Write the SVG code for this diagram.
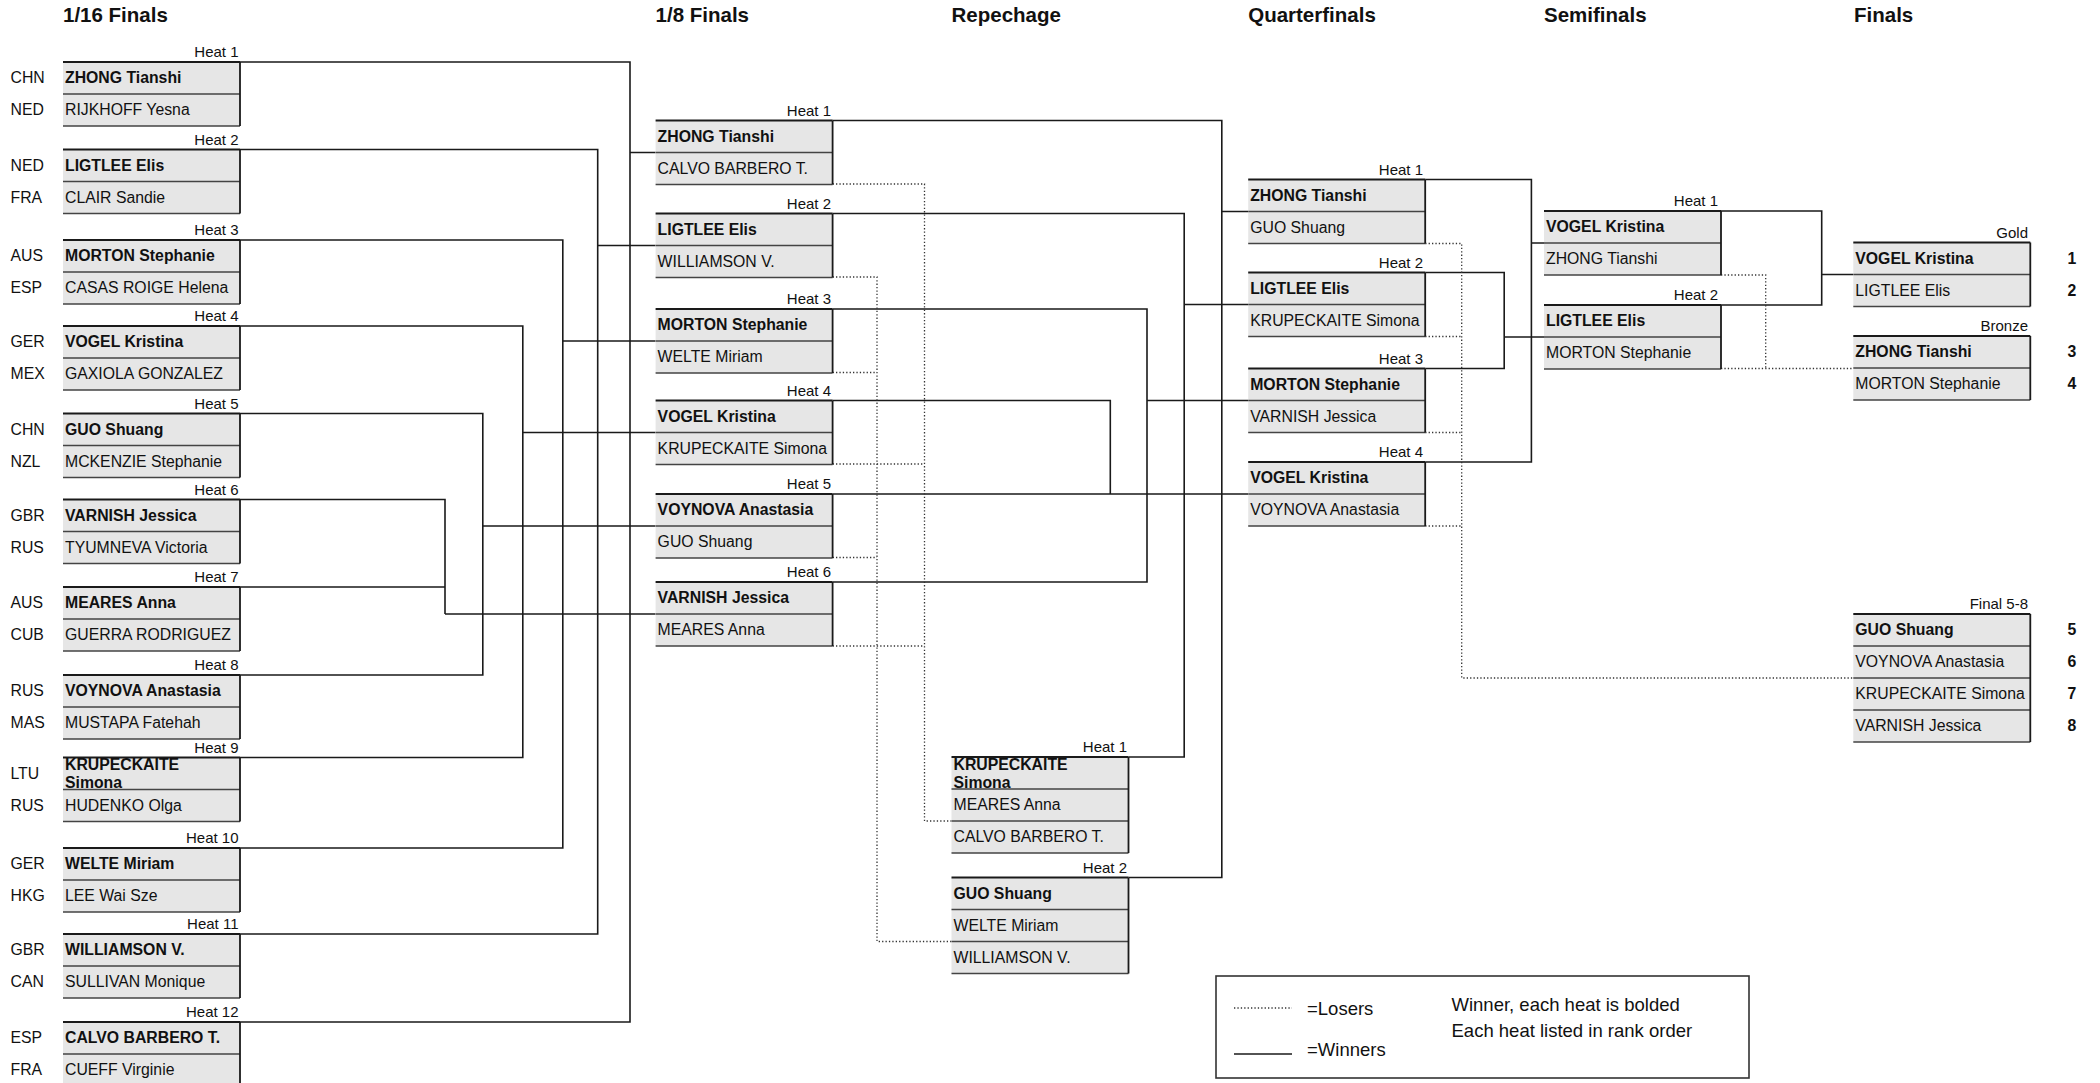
<svg xmlns="http://www.w3.org/2000/svg" width="2100" height="1083" viewBox="0 0 2100 1083">
<style>
text{font-family:'Liberation Sans',Arial,Helvetica,sans-serif;font-size:15.8px;fill:#111}
.b{font-weight:bold}
.h{font-size:15px;text-anchor:end}
.ti{font-size:20.5px;font-weight:bold}
.rk{font-weight:bold;text-anchor:middle}
.lg{font-size:18.5px}
.bx{fill:#e6e6e6;stroke:none}
.bl{fill:none;stroke:#444;stroke-width:1.6}
.bk{fill:none;stroke:#1a1a1a;stroke-width:1.8}
.w{fill:none;stroke:#1a1a1a;stroke-width:1.6}
.l{fill:none;stroke:#333;stroke-width:1.3;stroke-dasharray:1.3 2.1}
</style>
<defs>
<g id="b2"><rect class="bx" width="177" height="64"/><path class="bl" d="M0,32H177M0,64H177"/><path class="bk" d="M0,0H177M177,0V64"/></g>
<g id="b3"><rect class="bx" width="177" height="96"/><path class="bl" d="M0,32H177M0,64H177M0,96H177"/><path class="bk" d="M0,0H177M177,0V96"/></g>
<g id="b4"><rect class="bx" width="177" height="128"/><path class="bl" d="M0,32H177M0,64H177M0,96H177M0,128H177"/><path class="bk" d="M0,0H177M177,0V128"/></g>
</defs>
<rect width="2100" height="1083" fill="#fff"/>

<g id="titles">
<text class="ti" x="63" y="22">1/16 Finals</text>
<text class="ti" x="655.6" y="22">1/8 Finals</text>
<text class="ti" x="951.5" y="22">Repechage</text>
<text class="ti" x="1248.2" y="22">Quarterfinals</text>
<text class="ti" x="1544" y="22">Semifinals</text>
<text class="ti" x="1854" y="22">Finals</text>
</g>

<g id="connectors">
<path class="w" d="M240,62H630V1022H240M630,152.5H655.6"/>
<path class="w" d="M240,149.5H597.7V934H240M597.7,245.5H655.6"/>
<path class="w" d="M240,240H562.8V848H240M562.8,341H655.6"/>
<path class="w" d="M240,326H522.8V757.5H240M522.8,432.5H655.6"/>
<path class="w" d="M240,413.5H482.8V675H240M482.8,526H655.6"/>
<path class="w" d="M240,499.5H445V614M240,587H445M445,614H655.6"/>
<path class="w" d="M832.6,120.5H1221.8V877.5H1128.5M1221.8,211.5H1248.2"/>
<path class="w" d="M832.6,213.5H1184.2V757H1128.5M1184.2,304.5H1248.2"/>
<path class="w" d="M832.6,309H1147V582H832.6M1147,400.5H1248.2"/>
<path class="w" d="M832.6,400.5H1110.3V494M832.6,494H1248.2"/>
<path class="w" d="M1425.2,179.5H1531.4V462H1425.2M1531.4,243H1544"/>
<path class="w" d="M1425.2,272.5H1504.2V368.5H1425.2M1504.2,337H1544"/>
<path class="w" d="M1721,211H1821.7V305H1721M1821.7,274.5H1853.3"/>
<path class="l" d="M832.6,184H924.5V821H951.5M832.6,464H924.5M832.6,646H924.5"/>
<path class="l" d="M832.6,277H877V941.5H951.5M832.6,372.5H877M832.6,557.5H877"/>
<path class="l" d="M1425.2,243.5H1461.7V678H1853.3M1425.2,336.5H1461.7M1425.2,432.5H1461.7M1425.2,526H1461.7"/>
<path class="l" d="M1721,275H1765.7V368.5M1721,368.5H1853.3"/>
</g>

<g id="r16-h1"><text class="h" x="238.5" y="57">Heat 1</text><use href="#b2" x="63" y="62"/><text x="10.5" y="83">CHN</text><text class="b" x="65" y="83">ZHONG Tianshi</text><text x="10.5" y="115">NED</text><text x="65" y="115">RIJKHOFF Yesna</text></g>
<g id="r16-h2"><text class="h" x="238.5" y="144.5">Heat 2</text><use href="#b2" x="63" y="149.5"/><text x="10.5" y="170.5">NED</text><text class="b" x="65" y="170.5">LIGTLEE Elis</text><text x="10.5" y="202.5">FRA</text><text x="65" y="202.5">CLAIR Sandie</text></g>
<g id="r16-h3"><text class="h" x="238.5" y="235">Heat 3</text><use href="#b2" x="63" y="240"/><text x="10.5" y="261">AUS</text><text class="b" x="65" y="261">MORTON Stephanie</text><text x="10.5" y="293">ESP</text><text x="65" y="293">CASAS ROIGE Helena</text></g>
<g id="r16-h4"><text class="h" x="238.5" y="321">Heat 4</text><use href="#b2" x="63" y="326"/><text x="10.5" y="347">GER</text><text class="b" x="65" y="347">VOGEL Kristina</text><text x="10.5" y="379">MEX</text><text x="65" y="379">GAXIOLA GONZALEZ</text></g>
<g id="r16-h5"><text class="h" x="238.5" y="408.5">Heat 5</text><use href="#b2" x="63" y="413.5"/><text x="10.5" y="434.5">CHN</text><text class="b" x="65" y="434.5">GUO Shuang</text><text x="10.5" y="466.5">NZL</text><text x="65" y="466.5">MCKENZIE Stephanie</text></g>
<g id="r16-h6"><text class="h" x="238.5" y="494.5">Heat 6</text><use href="#b2" x="63" y="499.5"/><text x="10.5" y="520.5">GBR</text><text class="b" x="65" y="520.5">VARNISH Jessica</text><text x="10.5" y="552.5">RUS</text><text x="65" y="552.5">TYUMNEVA Victoria</text></g>
<g id="r16-h7"><text class="h" x="238.5" y="582">Heat 7</text><use href="#b2" x="63" y="587"/><text x="10.5" y="608">AUS</text><text class="b" x="65" y="608">MEARES Anna</text><text x="10.5" y="640">CUB</text><text x="65" y="640">GUERRA RODRIGUEZ</text></g>
<g id="r16-h8"><text class="h" x="238.5" y="670">Heat 8</text><use href="#b2" x="63" y="675"/><text x="10.5" y="696">RUS</text><text class="b" x="65" y="696">VOYNOVA Anastasia</text><text x="10.5" y="728">MAS</text><text x="65" y="728">MUSTAPA Fatehah</text></g>
<g id="r16-h9"><text class="h" x="238.5" y="752.5">Heat 9</text><use href="#b2" x="63" y="757.5"/><text x="10.5" y="778.5">LTU</text><text class="b" x="65" y="770">KRUPECKAITE</text><text class="b" x="65" y="788">Simona</text><text x="10.5" y="810.5">RUS</text><text x="65" y="810.5">HUDENKO Olga</text></g>
<g id="r16-h10"><text class="h" x="238.5" y="843">Heat 10</text><use href="#b2" x="63" y="848"/><text x="10.5" y="869">GER</text><text class="b" x="65" y="869">WELTE Miriam</text><text x="10.5" y="901">HKG</text><text x="65" y="901">LEE Wai Sze</text></g>
<g id="r16-h11"><text class="h" x="238.5" y="929">Heat 11</text><use href="#b2" x="63" y="934"/><text x="10.5" y="955">GBR</text><text class="b" x="65" y="955">WILLIAMSON V.</text><text x="10.5" y="987">CAN</text><text x="65" y="987">SULLIVAN Monique</text></g>
<g id="r16-h12"><text class="h" x="238.5" y="1017">Heat 12</text><use href="#b2" x="63" y="1022"/><text x="10.5" y="1043">ESP</text><text class="b" x="65" y="1043">CALVO BARBERO T.</text><text x="10.5" y="1075">FRA</text><text x="65" y="1075">CUEFF Virginie</text></g>

<g id="r8-h1"><text class="h" x="831" y="115.5">Heat 1</text><use href="#b2" x="655.6" y="120.5"/><text class="b" x="657.6" y="141.5">ZHONG Tianshi</text><text x="657.6" y="173.5">CALVO BARBERO T.</text></g>
<g id="r8-h2"><text class="h" x="831" y="208.5">Heat 2</text><use href="#b2" x="655.6" y="213.5"/><text class="b" x="657.6" y="234.5">LIGTLEE Elis</text><text x="657.6" y="266.5">WILLIAMSON V.</text></g>
<g id="r8-h3"><text class="h" x="831" y="304">Heat 3</text><use href="#b2" x="655.6" y="309"/><text class="b" x="657.6" y="330">MORTON Stephanie</text><text x="657.6" y="362">WELTE Miriam</text></g>
<g id="r8-h4"><text class="h" x="831" y="395.5">Heat 4</text><use href="#b2" x="655.6" y="400.5"/><text class="b" x="657.6" y="421.5">VOGEL Kristina</text><text x="657.6" y="453.5">KRUPECKAITE Simona</text></g>
<g id="r8-h5"><text class="h" x="831" y="489">Heat 5</text><use href="#b2" x="655.6" y="494"/><text class="b" x="657.6" y="515">VOYNOVA Anastasia</text><text x="657.6" y="547">GUO Shuang</text></g>
<g id="r8-h6"><text class="h" x="831" y="577">Heat 6</text><use href="#b2" x="655.6" y="582"/><text class="b" x="657.6" y="603">VARNISH Jessica</text><text x="657.6" y="635">MEARES Anna</text></g>

<g id="rep-h1"><text class="h" x="1127" y="752">Heat 1</text><use href="#b3" x="951.5" y="757"/><text class="b" x="953.5" y="769.5">KRUPECKAITE</text><text class="b" x="953.5" y="787.5">Simona</text><text x="953.5" y="810">MEARES Anna</text><text x="953.5" y="842">CALVO BARBERO T.</text></g>
<g id="rep-h2"><text class="h" x="1127" y="872.5">Heat 2</text><use href="#b3" x="951.5" y="877.5"/><text class="b" x="953.5" y="898.5">GUO Shuang</text><text x="953.5" y="930.5">WELTE Miriam</text><text x="953.5" y="962.5">WILLIAMSON V.</text></g>

<g id="qf-h1"><text class="h" x="1423" y="174.5">Heat 1</text><use href="#b2" x="1248.2" y="179.5"/><text class="b" x="1250.2" y="200.5">ZHONG Tianshi</text><text x="1250.2" y="232.5">GUO Shuang</text></g>
<g id="qf-h2"><text class="h" x="1423" y="267.5">Heat 2</text><use href="#b2" x="1248.2" y="272.5"/><text class="b" x="1250.2" y="293.5">LIGTLEE Elis</text><text x="1250.2" y="325.5">KRUPECKAITE Simona</text></g>
<g id="qf-h3"><text class="h" x="1423" y="363.5">Heat 3</text><use href="#b2" x="1248.2" y="368.5"/><text class="b" x="1250.2" y="389.5">MORTON Stephanie</text><text x="1250.2" y="421.5">VARNISH Jessica</text></g>
<g id="qf-h4"><text class="h" x="1423" y="457">Heat 4</text><use href="#b2" x="1248.2" y="462"/><text class="b" x="1250.2" y="483">VOGEL Kristina</text><text x="1250.2" y="515">VOYNOVA Anastasia</text></g>

<g id="sf-h1"><text class="h" x="1718" y="206">Heat 1</text><use href="#b2" x="1544" y="211"/><text class="b" x="1546" y="232">VOGEL Kristina</text><text x="1546" y="264">ZHONG Tianshi</text></g>
<g id="sf-h2"><text class="h" x="1718" y="300">Heat 2</text><use href="#b2" x="1544" y="305"/><text class="b" x="1546" y="326">LIGTLEE Elis</text><text x="1546" y="358">MORTON Stephanie</text></g>

<g id="final-gold"><text class="h" x="2028" y="238">Gold</text><use href="#b2" x="1853.3" y="242.5"/><text class="b" x="1855.3" y="263.5">VOGEL Kristina</text><text x="1855.3" y="295.5">LIGTLEE Elis</text><text class="rk" x="2072" y="263.5">1</text><text class="rk" x="2072" y="295.5">2</text></g>
<g id="final-bronze"><text class="h" x="2028" y="331">Bronze</text><use href="#b2" x="1853.3" y="336"/><text class="b" x="1855.3" y="357">ZHONG Tianshi</text><text x="1855.3" y="389">MORTON Stephanie</text><text class="rk" x="2072" y="357">3</text><text class="rk" x="2072" y="389">4</text></g>
<g id="final-5-8"><text class="h" x="2028" y="609">Final 5-8</text><use href="#b4" x="1853.3" y="614"/><text class="b" x="1855.3" y="635">GUO Shuang</text><text x="1855.3" y="667">VOYNOVA Anastasia</text><text x="1855.3" y="699">KRUPECKAITE Simona</text><text x="1855.3" y="731">VARNISH Jessica</text><text class="rk" x="2072" y="635">5</text><text class="rk" x="2072" y="667">6</text><text class="rk" x="2072" y="699">7</text><text class="rk" x="2072" y="731">8</text></g>

<g id="legend">
<rect x="1216" y="976" width="533" height="102" fill="#fff" stroke="#333" stroke-width="1.6"/>
<path class="l" d="M1234,1008H1292"/>
<path class="w" d="M1234,1054H1292"/>
<text class="lg" x="1307" y="1015">=Losers</text>
<text class="lg" x="1307" y="1056">=Winners</text>
<text class="lg" x="1451.5" y="1011">Winner, each heat is bolded</text>
<text class="lg" x="1451.5" y="1037">Each heat listed in rank order</text>
</g>
</svg>
